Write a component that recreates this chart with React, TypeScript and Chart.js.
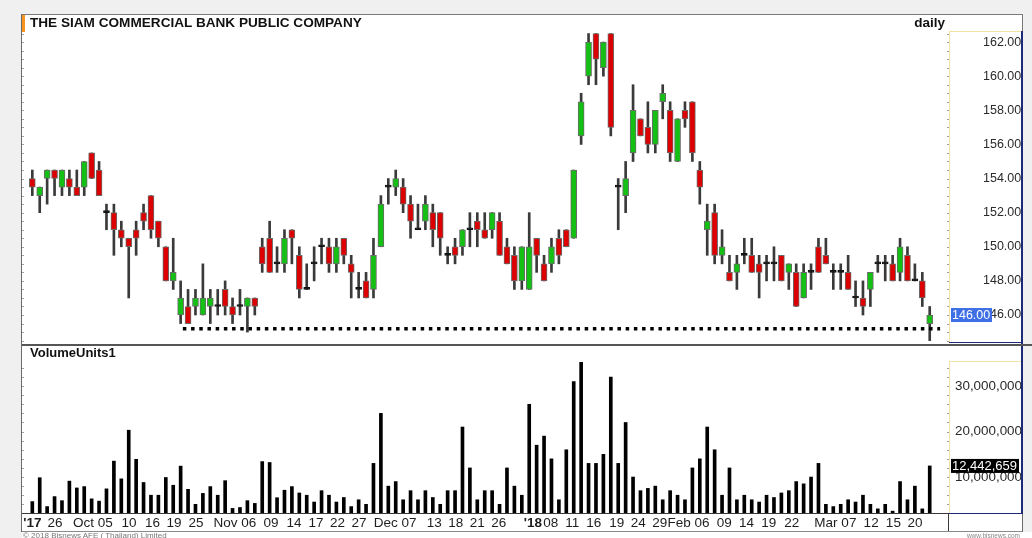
import React, { useEffect, useRef } from "react";
import { Chart, registerables } from "chart.js";
Chart.register(...registerables);

const FONT = "'Liberation Sans', Arial, Helvetica, sans-serif";

// Daily OHLC (THB) – 122 trading sessions
const opens = [
  154, 153, 154, 154.5, 153.5, 154, 153.5, 153.5, 155.5, 154.5,
  152, 152, 151, 150.5, 151, 152, 153, 151.5, 150, 148,
  146, 146.5, 146.5, 146, 146.5, 146.5, 147.5, 146.5, 146.5, 146.5,
  147, 150, 150.5, 149, 149, 151, 149.5, 147.5, 149, 150,
  150, 149, 150.5, 149, 147.5, 148, 147.5, 150, 153.5, 153.5,
  153.5, 152.5, 151, 151.5, 152, 152, 149.5, 150, 150, 151,
  151.5, 151, 151, 151.5, 150, 149.5, 148, 147.5, 150.5, 149,
  149, 150.5, 151, 150.5, 156.5, 160, 162.5, 160.5, 162.5, 153.5,
  153, 155.5, 157.5, 157, 156, 158.5, 158, 155, 158, 158.5,
  154.5, 151, 152, 149.5, 148.5, 148.5, 149.5, 149.5, 149, 149,
  149, 149.5, 148.5, 148.5, 147, 148.5, 150, 149.5, 148.5, 148.5,
  148.5, 147, 147, 147.5, 149, 149, 149, 148.5, 149.5, 148,
  148, 145.5,
];
const highs = [
  154.5, 153.5, 154.5, 154.5, 154.5, 154.5, 154.5, 155, 155.5, 155,
  152.5, 152.5, 151.5, 150.5, 151.5, 152.5, 153, 151.5, 150, 150.5,
  148, 147.5, 147.5, 149, 147.5, 147.5, 148, 147, 147.5, 147,
  147, 150.5, 151.5, 150, 151, 151, 150, 149, 150, 150.5,
  150.5, 150.5, 150.5, 149.5, 148.5, 148.5, 150.5, 153, 154, 154.5,
  154, 153, 152.5, 153, 152.5, 152, 150, 150.5, 151, 152,
  152, 152, 152, 152, 150.5, 150, 150, 152, 150.5, 149.5,
  150.5, 151, 151, 154.5, 159, 162.5, 162.5, 162, 162.5, 154,
  155, 159.5, 157.5, 158.5, 158, 159.5, 158.5, 157.5, 158.5, 158.5,
  155, 152.5, 152.5, 151, 149.5, 149.5, 150.5, 150.5, 149.5, 149.5,
  150, 149.5, 149, 149, 149, 149, 150.5, 150.5, 149, 149,
  149.5, 148, 148, 148.5, 149.5, 149.5, 149.5, 150.5, 150, 149,
  148.5, 146.5,
];
const lows = [
  153, 152, 152.5, 153, 153, 153, 153, 153, 154, 153,
  151, 149.5, 150, 147, 149.5, 151, 150.5, 150, 148, 147.5,
  145.5, 145.5, 146, 146, 145.5, 146, 146, 145.5, 146, 145,
  146, 148.5, 148.5, 148.5, 148.5, 149, 147, 147.5, 148, 149,
  148.5, 148.5, 149, 147, 147, 147, 147, 150, 152.5, 153,
  152, 150.5, 151, 151, 150, 149.5, 149, 149, 149.5, 150,
  150, 150.5, 150.5, 149.5, 149, 147.5, 147.5, 147.5, 148.5, 148,
  148.5, 149, 150, 150.5, 156, 159.5, 159.5, 160, 156.5, 151,
  152, 155, 156.5, 155.5, 155.5, 157.5, 155, 155, 157, 155,
  152.5, 149.5, 149, 149, 148, 147.5, 149, 148.5, 147, 148,
  148, 148, 147.5, 146.5, 147, 147.5, 148.5, 149, 147.5, 147.5,
  147.5, 146.5, 146, 146.5, 148.5, 148, 148, 148, 148, 148,
  146.5, 144.5,
];
const closes = [
  153.5, 153.5, 154.5, 154, 154.5, 153.5, 153, 155, 154, 153,
  152, 151, 150.5, 150, 150.5, 151.5, 151, 150.5, 148, 148.5,
  147, 145.5, 147, 147, 147, 146.5, 146.5, 146, 146.5, 147,
  146.5, 149, 148.5, 149, 150.5, 150.5, 147.5, 147.5, 149, 150,
  149, 150, 149.5, 148.5, 147.5, 147, 149.5, 152.5, 153.5, 154,
  152.5, 151.5, 151, 152.5, 151, 150.5, 149.5, 149.5, 151, 151,
  151, 150.5, 152, 149.5, 149, 148, 150, 150, 149.5, 148,
  150, 149.5, 150, 154.5, 158.5, 162, 161, 162, 157, 153.5,
  154, 158, 156.5, 156, 158, 159, 155.5, 157.5, 157.5, 155.5,
  153.5, 151.5, 149.5, 150, 148, 149, 149.5, 148.5, 148.5, 149,
  149, 148, 149, 146.5, 148.5, 148.5, 148.5, 149, 148.5, 148.5,
  147.5, 147, 146.5, 148.5, 149, 149, 148, 150, 148, 148,
  147, 146,
];
// Daily volume (shares)
const volumes = [
  4.6e6, 9.85e6, 3.5e6, 5.7e6, 4.8e6, 9.1e6, 7.6e6, 7.9e6, 5.2e6, 4.7e6,
  7.4e6, 13.5e6, 9.6e6, 20.3e6, 13.9e6, 8.8e6, 6.0e6, 6.0e6, 9.9e6, 8.2e6,
  12.4e6, 7.3e6, 4.0e6, 6.4e6, 7.9e6, 6.0e6, 9.2e6, 3.1e6, 3.3e6, 4.8e6,
  4.2e6, 13.4e6, 13.2e6, 5.45e6, 7.1e6, 7.9e6, 6.5e6, 6.0e6, 4.5e6, 7.0e6,
  6.0e6, 4.5e6, 5.5e6, 3.5e6, 5.0e6, 4.0e6, 13.0e6, 24.0e6, 8.0e6, 9.0e6,
  5.0e6, 7.0e6, 5.0e6, 7.0e6, 5.5e6, 4.0e6, 7.0e6, 7.0e6, 21.0e6, 12.0e6,
  5.0e6, 7.0e6, 7.0e6, 4.0e6, 12.0e6, 8.0e6, 6.0e6, 26.0e6, 17.0e6, 19.0e6,
  14.0e6, 5.0e6, 16.0e6, 31.0e6, 35.3e6, 13.0e6, 13.0e6, 15.0e6, 32.0e6, 13.0e6,
  22.0e6, 10.0e6, 7.0e6, 7.5e6, 8.0e6, 5.0e6, 7.0e6, 6.0e6, 5.0e6, 12.0e6,
  14.0e6, 21.0e6, 16.0e6, 6.0e6, 12.0e6, 5.0e6, 6.0e6, 5.0e6, 4.5e6, 6.0e6,
  5.5e6, 6.5e6, 7.0e6, 9.0e6, 8.5e6, 10.0e6, 13.0e6, 4.0e6, 3.5e6, 4.0e6,
  5.0e6, 4.5e6, 6.0e6, 4.0e6, 3.0e6, 4.0e6, 2.5e6, 9.0e6, 5.0e6, 8.0e6,
  3.0e6, 12442659,
];

const priceTicks = [146, 148, 150, 152, 154, 156, 158, 160, 162];
const volumeTicks = [10000000, 20000000, 30000000];
// date label positions (session index of the label's day number)
const tickIndex = [0, 3.06, 9.83, 13.05, 16.2, 19.1, 22.07, 29.2, 32.2, 35.3, 38.25, 41.15, 44.05, 50.8, 54.2, 57.1, 60.0, 62.9, 67.5, 69.9, 72.8, 75.7, 78.8, 81.7, 84.6, 90.3, 93.3, 96.3, 99.3, 102.4, 110.1, 113.1, 116.1, 119.0];
const tickText = ["'17", "26", "Oct 05", "10", "16", "19", "25", "Nov 06", "09", "14", "17", "22", "27", "Dec 07", "13", "18", "21", "26", "'18", "08", "11", "16", "19", "24", "29", "Feb 06", "09", "14", "19", "22", "Mar 07", "12", "15", "20"];

const supportLevel = 145.2;
const supportFrom = 20.3;
const supportTo = 122.4;

const X_MIN = -1.39;
const X_MAX = 123.6;
const PRICE_MIN = 144.36;
const PRICE_MAX = 162.59;
const VOL_MIN = 1.87e6;
const VOL_MAX = 35.3e6;

const GREEN = "#13c013";
const RED = "#dd0000";

const fmtVol = (v: number) => Math.round(v).toLocaleString("en-US");

const xScale = () => ({
  type: "linear" as const,
  min: X_MIN,
  max: X_MAX,
  offset: false,
  display: false,
});

function priceConfig(): any {
  const idx = opens.map((_, i) => i);
  const last = closes.length - 1;
  const bodyColors = idx.map((i) => (closes[i] > opens[i] ? GREEN : closes[i] < opens[i] ? RED : "#111"));
  const bodyBorders = idx.map((i) => (closes[i] === opens[i] ? "#111" : "#6a6a6a"));
  const overlay = {
    id: "priceOverlay",
    afterDraw(chart: any) {
      const { ctx, chartArea } = chart;
      const y = chart.scales.y;
      ctx.save();
      ctx.strokeStyle = "#a0a0a0";
      ctx.lineWidth = 1;
      for (let v = 144.5; v <= 162.5; v += 0.5) {
        const py = Math.round(y.getPixelForValue(v)) + 0.5;
        ctx.beginPath();
        ctx.moveTo(chartArea.left, py);
        ctx.lineTo(chartArea.left + 2, py);
        ctx.moveTo(chartArea.right - 2, py);
        ctx.lineTo(chartArea.right, py);
        ctx.stroke();
      }
      const ly = y.getPixelForValue(closes[last]);
      ctx.fillStyle = "#3f6fe6";
      ctx.fillRect(chartArea.right + 2, ly - 7, 41, 14);
      ctx.fillStyle = "#ffffff";
      ctx.font = `12.5px ${FONT}`;
      ctx.textBaseline = "middle";
      ctx.textAlign = "left";
      ctx.fillText(closes[last].toFixed(2), chartArea.right + 3, ly + 0.5);
      ctx.restore();
    },
  };
  return {
    type: "bar",
    data: {
      datasets: [
        {
          type: "line",
          data: [
            { x: supportFrom, y: supportLevel },
            { x: supportTo, y: supportLevel },
          ],
          borderColor: "#000",
          borderWidth: 3.5,
          borderDash: [3.5, 4.7],
          pointRadius: 0,
          order: 0,
        },
        {
          data: idx.map((i) => ({ x: i, y: [lows[i], highs[i]] })),
          backgroundColor: "#3a3a3a",
          barThickness: 2,
          grouped: false,
          order: 2,
        },
        {
          data: idx.map((i) => ({ x: i, y: [opens[i], closes[i]] })),
          backgroundColor: bodyColors,
          borderColor: bodyBorders,
          borderWidth: 1,
          borderSkipped: false,
          barThickness: 6,
          minBarLength: 2,
          grouped: false,
          order: 1,
        },
      ],
    },
    options: {
      responsive: false,
      animation: false,
      events: [],
      layout: { padding: { left: 22, right: 10, top: 32, bottom: 17 } },
      plugins: { legend: { display: false }, tooltip: { enabled: false } },
      scales: {
        x: xScale(),
        y: {
          position: "right",
          min: PRICE_MIN,
          max: PRICE_MAX,
          afterBuildTicks: (s: any) => {
            s.ticks = priceTicks.map((v) => ({ value: v }));
          },
          afterFit: (s: any) => {
            s.width = 73;
          },
          grid: { display: false, drawTicks: true, tickLength: 30 },
          border: { display: false },
          ticks: {
            padding: 4,
            color: "#2a2a2a",
            font: { family: FONT, size: 12.5 },
            callback: (v: any) => Number(v).toFixed(2),
          },
        },
      },
    },
    plugins: [overlay],
  };
}

function volumeConfig(): any {
  const idx = volumes.map((_, i) => i);
  const last = volumes.length - 1;
  const overlay = {
    id: "volOverlay",
    afterDraw(chart: any) {
      const { ctx, chartArea } = chart;
      const y = chart.scales.y;
      const x = chart.scales.x;
      ctx.save();
      ctx.strokeStyle = "#a0a0a0";
      ctx.lineWidth = 1;
      for (let v = 2e6; v <= 35e6; v += 2e6) {
        const py = Math.round(y.getPixelForValue(v)) + 0.5;
        ctx.beginPath();
        ctx.moveTo(chartArea.left, py);
        ctx.lineTo(chartArea.left + 2, py);
        ctx.moveTo(chartArea.right - 2, py);
        ctx.lineTo(chartArea.right, py);
        ctx.stroke();
      }
      const ly = y.getPixelForValue(volumes[last]);
      ctx.fillStyle = "#000";
      ctx.fillRect(chartArea.right + 2, ly - 7, 68, 14);
      ctx.fillStyle = "#fff";
      ctx.font = `13px ${FONT}`;
      ctx.textBaseline = "middle";
      ctx.textAlign = "left";
      ctx.fillText(fmtVol(volumes[last]), chartArea.right + 3, ly + 0.5);

      // date labels
      const ly2 = chartArea.bottom + 9.5;
      ctx.fillStyle = "#1e1e1e";
      tickIndex.forEach((ti, k) => {
        const px = x.getPixelForValue(ti);
        const txt = tickText[k];
        if (txt.startsWith("'")) {
          ctx.font = `bold 13.5px ${FONT}`;
          ctx.textAlign = "center";
          ctx.fillText(txt, px, ly2);
          return;
        }
        ctx.font = `13.5px ${FONT}`;
        const parts = txt.split(" ");
        const day = parts[parts.length - 1];
        ctx.textAlign = "center";
        ctx.fillText(day, px, ly2);
        if (parts.length > 1) {
          const dw = ctx.measureText(day).width;
          ctx.textAlign = "right";
          ctx.fillText(parts[0] + " ", px - dw / 2, ly2);
        }
      });
      ctx.restore();
    },
  };
  return {
    type: "bar",
    data: {
      datasets: [
        {
          data: idx.map((i) => ({ x: i, y: volumes[i] })),
          backgroundColor: "#000",
          barThickness: 3,
          grouped: false,
        },
      ],
    },
    options: {
      responsive: false,
      animation: false,
      events: [],
      layout: { padding: { left: 22, right: 10, top: 17, bottom: 24 } },
      plugins: { legend: { display: false }, tooltip: { enabled: false } },
      scales: {
        x: xScale(),
        y: {
          position: "right",
          min: VOL_MIN,
          max: VOL_MAX,
          afterBuildTicks: (s: any) => {
            s.ticks = volumeTicks.map((v) => ({ value: v }));
          },
          afterFit: (s: any) => {
            s.width = 73;
          },
          grid: { display: false, drawTicks: false },
          border: { display: false },
          ticks: {
            padding: 6,
            color: "#2a2a2a",
            font: { family: FONT, size: 13.4 },
            callback: (v: any) => fmtVol(Number(v)),
          },
        },
      },
    },
    plugins: [overlay],
  };
}

const abs = (s: React.CSSProperties): React.CSSProperties => ({ position: "absolute", ...s });

export default function App() {
  const priceRef = useRef<HTMLCanvasElement>(null);
  const volRef = useRef<HTMLCanvasElement>(null);

  useEffect(() => {
    document.body.style.margin = "0";
    const pc = new Chart(priceRef.current as HTMLCanvasElement, priceConfig());
    const vc = new Chart(volRef.current as HTMLCanvasElement, volumeConfig());
    return () => {
      pc.destroy();
      vc.destroy();
    };
  }, []);

  const yellow = "#f3e2a4";
  const navy = "#1c2a78";

  return (
    <div style={{ position: "fixed", left: 0, top: 0, width: 1032, height: 538, background: "#f0f0f0", overflow: "hidden", fontFamily: FONT }}>
      <div style={abs({ left: 22, top: 14, width: 1010, height: 524, background: "#fff" })} />
      <div style={abs({ left: 22, top: 14, width: 1001, height: 1, background: "#7a7a7a" })} />
      <div style={abs({ left: 1022, top: 14, width: 1, height: 518, background: "#7a7a7a" })} />
      <div style={abs({ left: 1023, top: 14, width: 9, height: 518, background: "#f0f0f0" })} />
      <div style={abs({ left: 21, top: 14, width: 1, height: 518, background: "#6a6a6a" })} />

      <canvas ref={priceRef} width={1032} height={360} style={abs({ left: 0, top: 0, width: 1032, height: 360 })} />
      <canvas ref={volRef} width={1032} height={193} style={abs({ left: 0, top: 345, width: 1032, height: 193 })} />

      <div style={abs({ left: 22, top: 15, width: 3, height: 17, background: "#f7941d" })} />
      <div style={abs({ left: 30, top: 15, fontSize: 13.6, lineHeight: "16px", fontWeight: "bold", color: "#111", whiteSpace: "nowrap" })}>
        THE SIAM COMMERCIAL BANK PUBLIC COMPANY
      </div>
      <div style={abs({ left: 880, width: 65, top: 15, fontSize: 13.5, lineHeight: "16px", fontWeight: "bold", color: "#111", textAlign: "right" })}>
        daily
      </div>

      {/* price axis panel */}
      <div style={abs({ left: 949, top: 31, width: 73, height: 1, background: yellow })} />
      <div style={abs({ left: 949, top: 31, width: 1, height: 312, background: yellow })} />
      <div style={abs({ left: 1021, top: 31, width: 2, height: 313, background: navy })} />
      <div style={abs({ left: 949, top: 342, width: 74, height: 1, background: navy })} />

      {/* separator */}
      <div style={abs({ left: 22, top: 344, width: 1010, height: 2, background: "#555" })} />
      <div style={abs({ left: 30, top: 345, fontSize: 13, lineHeight: "16px", fontWeight: "bold", color: "#111" })}>VolumeUnits1</div>

      {/* volume axis panel */}
      <div style={abs({ left: 949, top: 361, width: 73, height: 1, background: yellow })} />
      <div style={abs({ left: 949, top: 361, width: 1, height: 153, background: yellow })} />
      <div style={abs({ left: 1021, top: 346, width: 2, height: 168, background: navy })} />
      <div style={abs({ left: 949, top: 513, width: 74, height: 1, background: navy })} />

      {/* bottom axis frame */}
      <div style={abs({ left: 22, top: 513, width: 927, height: 1, background: "#3a3a3a" })} />
      <div style={abs({ left: 948, top: 514, width: 1, height: 18, background: "#3a3a3a" })} />
      <div style={abs({ left: 22, top: 531, width: 1001, height: 1, background: "#8a8a8a" })} />
      <div style={abs({ left: 1022, top: 514, width: 1, height: 18, background: "#6a6a6a" })} />

      <div style={abs({ left: 23, top: 532, fontSize: 8, lineHeight: "8px", color: "#777", whiteSpace: "nowrap" })}>© 2018 Bisnews AFE ( Thailand) Limited</div>
      <div style={abs({ left: 960, width: 60, top: 532, fontSize: 6.5, lineHeight: "7px", color: "#888", textAlign: "right", whiteSpace: "nowrap" })}>www.bisnews.com</div>
    </div>
  );
}
